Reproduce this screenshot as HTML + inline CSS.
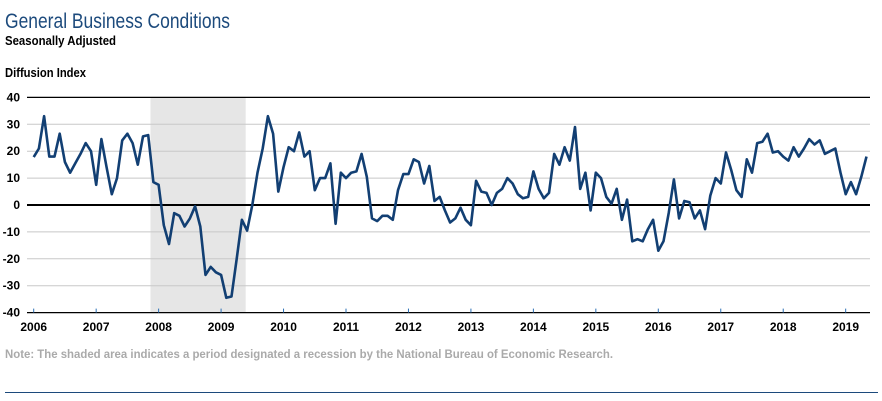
<!DOCTYPE html>
<html><head><meta charset="utf-8">
<style>
html,body{margin:0;padding:0;background:#fff;}
svg{display:block;font-family:"Liberation Sans Narrow","Liberation Sans",sans-serif;}
</style></head>
<body>
<svg id="chart" width="882" height="401" viewBox="0 0 882 401">
<text x="5" y="28" font-size="21" fill="#1c4a7c" textLength="225" lengthAdjust="spacingAndGlyphs">General Business Conditions</text>
<text x="5" y="45" font-size="13" font-weight="bold" fill="#000" textLength="111" lengthAdjust="spacingAndGlyphs">Seasonally Adjusted</text>
<text x="5" y="77" font-size="13" font-weight="bold" fill="#000" textLength="81" lengthAdjust="spacingAndGlyphs">Diffusion Index</text>
<g id="plot"></g>
<text x="5" y="358" font-size="12" font-weight="bold" fill="#aaaaaa" textLength="608" lengthAdjust="spacingAndGlyphs">Note: The shaded area indicates a period designated a recession by the National Bureau of Economic Research.</text>
<line x1="5" x2="878" y1="392.5" y2="392.5" stroke="#1c4a7c" stroke-width="1"/>
</svg>
<script>
const yTicks=[40,30,20,10,0,-10,-20,-30,-40];
const xYears=[2006,2007,2008,2009,2010,2011,2012,2013,2014,2015,2016,2017,2018,2019];
const recessionStart=2007.87, recessionEnd=2009.394;
const startYear=2006;
const values=[
17.8,21,33,18,18,26.5,16,12,15.5,19,23,20,
7.5,24.5,14,4,10,24,26.5,23,15,25.5,26,8.5,
7.5,-7.5,-14.5,-3,-4,-8,-5,-0.5,-8,-26,-23,-25,
-26,-34.5,-34,-20,-5.5,-9.5,0,12,21,33,26.5,5,
14,21.5,20,27,18,20,5.5,10,10,15.5,-7,12,
10,12,12.5,19,10.5,-5,-6,-4,-4,-5.5,5.5,11.5,
11.5,17,16,8,14.5,1.5,3,-2,-6.5,-5,-1,-5.5,
-7.5,9,5,4.5,0,4.5,6,10,8,4,2.5,3,
12.5,6,2.5,4.5,19,15,21.5,16.5,29,6,12,-2,
12,10,3,0.5,6,-5.5,2,-13.5,-12.7,-13.5,-9,-5.5,
-17,-13.5,-3,9.5,-5,1.5,1,-5,-2,-9,3.5,10,
8,19.5,13,5.5,3,17,12,23,23.5,26.5,19.5,20,
18,16.5,21.5,18,21,24.5,22.5,24,19,20,21,12,
4,8.5,4,10.5,18
];
const NS="http://www.w3.org/2000/svg";
const g=document.getElementById('plot');
const X0=27,X1=870;
function xs(t){return 33.7+(t-2006)*62.46;}
function ys(v){return 205-v*2.69;}
function mk(tag,attrs){const e=document.createElementNS(NS,tag);for(const k in attrs)e.setAttribute(k,attrs[k]);g.appendChild(e);return e;}
let r=mk('rect',{x:xs(recessionStart),y:ys(40),width:xs(recessionEnd)-xs(recessionStart),height:ys(-40)-ys(40),fill:'#e6e6e6'});


yTicks.forEach(v=>{
  const major=(v===40||v===-40);
  if(v!==0){
    const l=mk('line',{x1:X0,x2:X1,y1:ys(v),y2:ys(v),stroke:major?'#000':'#c8c8c8','stroke-width':major?1.2:1});
    
    
  }
  const t=mk('text',{x:20,y:ys(v)+4,'text-anchor':'end','font-size':12,'font-weight':'bold',fill:'#000'});
  t.textContent=v;
  
  
});
xYears.forEach(yr=>{
  const x=xs(yr);
  const tk=mk('line',{x1:x,x2:x,y1:ys(-40)-4,y2:ys(-40),stroke:'#2a6fb5','stroke-width':1});
  
  
  const t=mk('text',{x:x,y:331,'text-anchor':'middle','font-size':12,'font-weight':'bold',fill:'#000'});
  t.textContent=yr;
  
  
});
let pts=values.map((v,i)=>xs(startYear+i/12).toFixed(1)+','+ys(v).toFixed(1)).join(' ');
const zl=mk('line',{x1:X0,x2:X1,y1:ys(0),y2:ys(0),stroke:'#000','stroke-width':2});


const pl=mk('polyline',{points:pts,fill:'none',stroke:'#123f73','stroke-width':2.6,'stroke-linejoin':'round'});


</script>
</body></html>
